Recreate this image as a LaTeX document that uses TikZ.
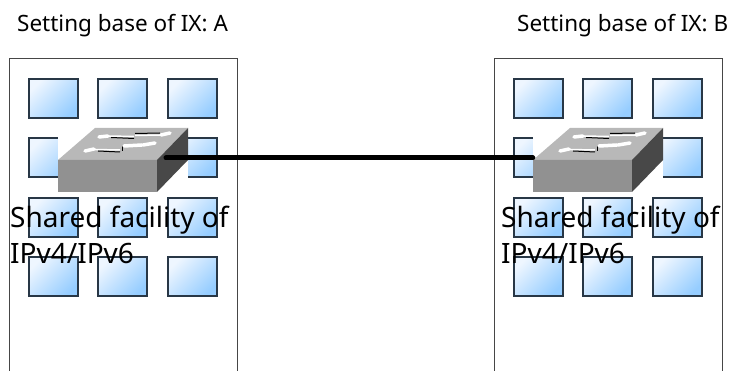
\documentclass[tikz,border=0pt]{standalone}
\usepackage{fontspec}
\setmainfont{Noto Sans}
\usepackage{tikz}

\definecolor{rackColor}{RGB}{70,70,70}
\definecolor{tileEdge}{RGB}{40,55,70}
\definecolor{tileLight}{RGB}{238,246,255}
\definecolor{tileDark}{RGB}{150,205,255}
\definecolor{topColor}{RGB}{184,184,184}
\definecolor{frontColor}{RGB}{145,145,145}
\definecolor{sideColor}{RGB}{72,72,72}

\tikzset{
    tile/.style = {draw = tileEdge, line width = 1.2pt, minimum width = 49pt, minimum height = 39pt, inner sep = 0pt,
        shading = axis, top color = tileLight, bottom color = tileDark, shading angle = 45},
    switchbox/.style = {fill = white, minimum width = 130pt, minimum height = 64pt, inner sep = 0pt},
    title/.style = {anchor = base west, inner sep = 0pt, font = \fontsize{22.5}{26}\selectfont},
    facility/.style = {anchor = north west, inner sep = 0pt, align = left, font = \fontsize{28}{36}\selectfont},
    link/.style = {line width = 5pt, line cap = round},
    port/.style = {white, line width = 3.5pt, line cap = round},
    wire/.style = {white, line width = 1.5pt},
    wireEdge/.style = {black, line width = 1pt}
}

\begin{document}
\begin{tikzpicture}[x = 1pt, y = -1pt]
            \useasboundingbox (0,0) rectangle (729,371);

            % rack offset / switch offset / title position / label position
            \foreach \side/\rackx/\swx/\titlex/\labelx in {A/0/0/17/10, B/485/475/517/501} {

                \draw [rackColor, line width = 1pt] (\rackx+9,371) -- (\rackx+9,59) -- (\rackx+237,59) -- (\rackx+237,371);

                \foreach \col/\tx in {1/53.5, 2/122.5, 3/192.5} {
                    \foreach \row/\ty in {1/98.5, 2/157.5, 3/217.5, 4/276.5} {
                        \node [tile] (tile\side\col\row) at (\rackx+\tx,\ty) {};
                    }
                }

                \node [switchbox] (sw\side) at (\swx+123,160) {};

                \begin{scope}[shift = {(\swx,0)}]
                    \path [fill = topColor] (58,160) -- (95,128) -- (188,128) -- (157,160) -- (58,160);
                    \path [fill = frontColor] (58,160) -- (157,160) -- (157,192) -- (58,192) -- (58,160);
                    \path [fill = sideColor] (157,160) -- (188,128) -- (188,160) -- (157,192) -- (157,160);

                    % ports on the top face
                    \draw [port] (99,137) -- (108,136);
                    \draw [wire] (108,136) -- (134,136.5);
                    \draw [wireEdge] (111,137.5) -- (134,138.5);
                    \draw [wire] (135,135.5) -- (160,135);
                    \draw [wireEdge] (135,133.5) -- (160,133);
                    \draw [port] (161,135) -- (170,133);
                    \draw [port] (85,151) -- (94,149);
                    \draw [wire] (94,149.5) -- (120,150);
                    \draw [wireEdge] (98,151) -- (120,152);
                    \draw [wireEdge] (122,146) -- (122,151);
                    \draw [port] (124,146) -- (142,145);
                    \draw [port] (143,145) -- (155,143);
                \end{scope}

                \node [title] (title\side) at (\titlex,32) {Setting base of IX: \side};
                \node [facility] (facility\side) at (\labelx,206) {Shared facility of\\IPv4/IPv6};
            }

            \coordinate (linkA) at (166,158);
            \draw [link] (linkA) -- (linkA -| swB.west);
\end{tikzpicture}
\end{document}
